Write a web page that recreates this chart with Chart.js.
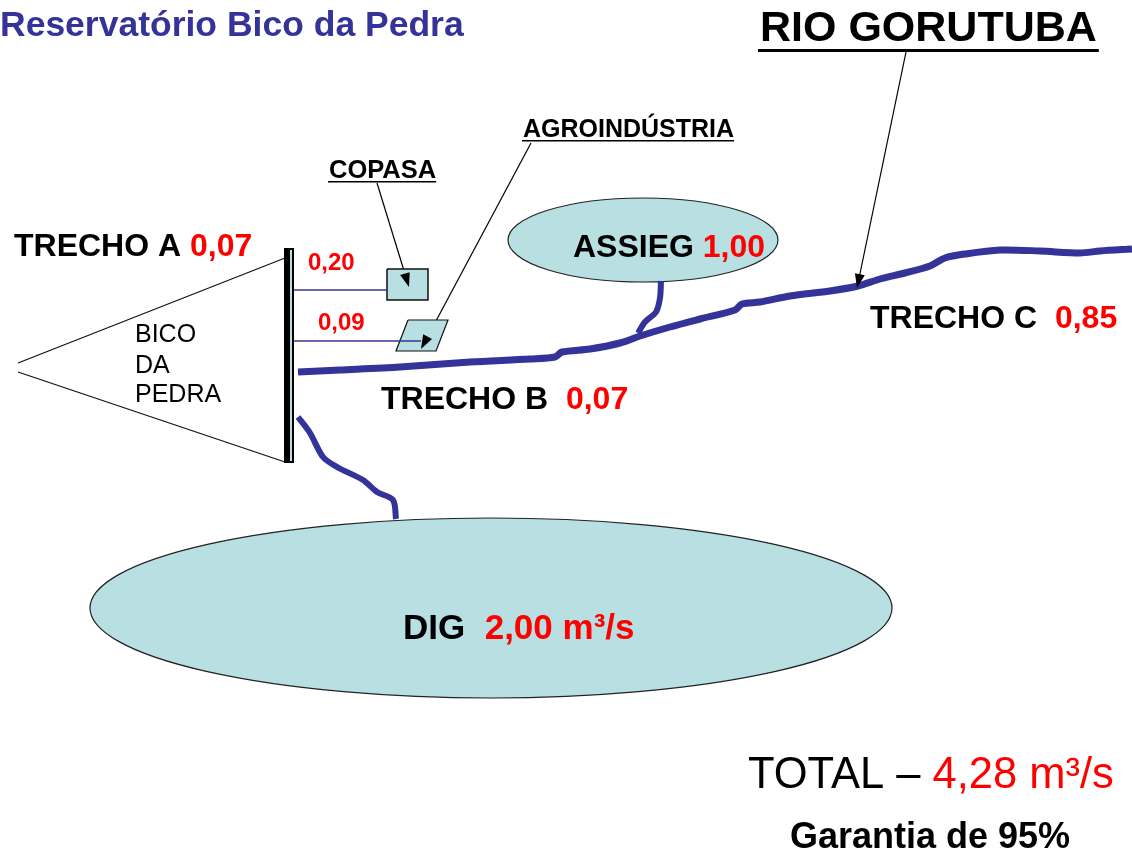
<!DOCTYPE html>
<html>
<head>
<meta charset="utf-8">
<script src="https://cdn.jsdelivr.net/npm/chart.js@4.4.1/dist/chart.umd.min.js"></script>
<style>
html, body { margin: 0; padding: 0; background: #fff; }
#wrap { width: 1132px; height: 852px; position: relative; }
</style>
</head>
<body>
<div id="wrap"><canvas id="diagram"></canvas></div>
<script>
// labels and flows (m³/s)
const title = 'Reservatório Bico da Pedra'
const riverName = 'RIO GORUTUBA'
const damName = ['BICO', 'DA', 'PEDRA']
const trechoNames = ['TRECHO A', 'TRECHO B', 'TRECHO C']
const trechoFlows = ['0,07', '0,07', '0,85']
const userNames = ['COPASA', 'AGROINDÚSTRIA']
const userFlows = ['0,20', '0,09']
const lakeNames = ['ASSIEG', 'DIG']
const lakeFlows = ['1,00', '2,00 m³/s']
const totalFlow = '4,28 m³/s'
const guarantee = 'Garantia de 95%'

// traced paths (picture units, y grows downward)
const riverMain = [
	{x: 298, y: 372}, {x: 340, y: 370}, {x: 400, y: 367}, {x: 470, y: 362}, {x: 530, y: 359},
	{x: 555, y: 357}, {x: 562, y: 352}, {x: 590, y: 349}, {x: 620, y: 343}, {x: 640, y: 336},
	{x: 670, y: 327}, {x: 700, y: 319}, {x: 735, y: 310}, {x: 742, y: 304}, {x: 760, y: 302},
	{x: 790, y: 296}, {x: 830, y: 291}, {x: 858, y: 286}, {x: 880, y: 279}, {x: 905, y: 273},
	{x: 930, y: 266}, {x: 945, y: 258}, {x: 965, y: 254}, {x: 1000, y: 250}, {x: 1040, y: 251},
	{x: 1080, y: 253}, {x: 1100, y: 251}, {x: 1132, y: 249}
]
const assiegBranch = [
	{x: 661, y: 281}, {x: 660, y: 298}, {x: 656, y: 312}, {x: 645, y: 322}, {x: 638, y: 333}
]
const digBranch = [
	{x: 298, y: 417}, {x: 310, y: 433}, {x: 323, y: 457}, {x: 337, y: 467}, {x: 363, y: 480},
	{x: 377, y: 492}, {x: 393, y: 500}, {x: 396, y: 519}
]
const copasaPipe = [{x: 293, y: 290}, {x: 387, y: 290}]
const agroPipe = [{x: 293, y: 341}, {x: 421, y: 341}]
const damTop = [{x: 18, y: 363}, {x: 285, y: 258}]
const damBottom = [{x: 18, y: 372}, {x: 285, y: 462}]
const copasaBox = [{x: 387, y: 269}, {x: 428, y: 269}, {x: 428, y: 300}, {x: 387, y: 300}, {x: 387, y: 269}]
const agroBox = [{x: 408, y: 320}, {x: 448, y: 320}, {x: 436, y: 351}, {x: 396, y: 351}, {x: 408, y: 320}]
const arrowRiver = [{x: 906, y: 52}, {x: 857, y: 288}]
const arrowCopasa = [{x: 377, y: 183}, {x: 409, y: 287}]
const arrowAgro = [{x: 531, y: 143}, {x: 421, y: 349}]
// lakes: centre and half axes
const lakeShapes = [
	{x: 643, y: 240, rx: 135, ry: 42},
	{x: 491, y: 608, rx: 401, ry: 90}
]
const dam = {x0: 285, x1: 293, y0: 248, y1: 463}

const BLUE = '#333399'
const RED = '#ff0000'
const LAKE = '#b8dfe2'
const FONT = '"Liberation Sans", Arial, sans-serif'

function line(data, color, width, extra) {
	return Object.assign({
		data: data,
		showLine: true,
		borderColor: color,
		borderWidth: width,
		pointRadius: 0,
		fill: false,
		tension: 0,
	}, extra || {})
}

// pixel helpers
function px(chart, p) {
	return {x: chart.scales.x.getPixelForValue(p.x), y: chart.scales.y.getPixelForValue(p.y)}
}

function textRun(ctx, x, y, parts) {
	let cx = x
	parts.forEach(part => {
		ctx.font = part.font
		ctx.fillStyle = part.color
		ctx.fillText(part.text, cx, y)
		cx += ctx.measureText(part.text).width
	})
	return cx
}

function underline(ctx, x0, x1, y, w) {
	ctx.fillStyle = '#000'
	ctx.fillRect(x0, y, x1 - x0, w)
}

const lakesPlugin = {
	id: 'lakes',
	beforeDatasetsDraw(chart) {
		const ctx = chart.ctx
		const sx = chart.scales.x, sy = chart.scales.y
		lakeShapes.forEach(l => {
			const c = px(chart, l)
			const rx = Math.abs(sx.getPixelForValue(l.x + l.rx) - c.x)
			const ry = Math.abs(sy.getPixelForValue(l.y + l.ry) - c.y)
			ctx.save()
			ctx.beginPath()
			ctx.ellipse(c.x, c.y, rx, ry, 0, 0, Math.PI * 2)
			ctx.fillStyle = LAKE
			ctx.fill()
			ctx.lineWidth = 1.2
			ctx.strokeStyle = '#222'
			ctx.stroke()
			ctx.restore()
		})
	},
	afterDatasetsDraw(chart) {
		const ctx = chart.ctx
		ctx.save()
		// arrow heads
		chart.data.datasets.forEach(ds => {
			if (!ds.arrow) return
			const a = px(chart, ds.data[ds.data.length - 2])
			const b = px(chart, ds.data[ds.data.length - 1])
			const ang = Math.atan2(b.y - a.y, b.x - a.x)
			ctx.save()
			ctx.translate(b.x, b.y)
			ctx.rotate(ang)
			ctx.beginPath()
			ctx.moveTo(0, 0)
			ctx.lineTo(-14, -5)
			ctx.lineTo(-14, 5)
			ctx.closePath()
			ctx.fillStyle = '#000'
			ctx.fill()
			ctx.restore()
		})
		// dam wall
		const d0 = px(chart, {x: dam.x0, y: dam.y0})
		const d1 = px(chart, {x: dam.x1, y: dam.y1})
		ctx.fillStyle = '#000'
		ctx.fillRect(d0.x - 1, d0.y, d1.x - d0.x + 2, d1.y - d0.y)
		ctx.fillStyle = LAKE
		ctx.fillRect(d1.x - 3, d0.y + 2, 2, d1.y - d0.y - 4)

		// texts
		ctx.textBaseline = 'alphabetic'
		textRun(ctx, 0, 36, [{text: title, color: BLUE, font: 'bold 35.5px ' + FONT}])

		let end = textRun(ctx, 760, 41, [{text: riverName, color: '#000', font: 'bold 43px ' + FONT}])
		underline(ctx, 758, end + 2, 49, 3)

		end = textRun(ctx, 523, 137, [{text: userNames[1], color: '#000', font: 'bold 25px ' + FONT}])
		underline(ctx, 522, end, 140, 1.5)
		end = textRun(ctx, 329, 178, [{text: userNames[0], color: '#000', font: 'bold 25.5px ' + FONT}])
		underline(ctx, 328, end, 181, 1.5)

		textRun(ctx, 308, 270, [{text: userFlows[0], color: RED, font: 'bold 24px ' + FONT}])
		textRun(ctx, 318, 330, [{text: userFlows[1], color: RED, font: 'bold 24px ' + FONT}])

		const tb = 'bold 32px ' + FONT
		textRun(ctx, 14, 256, [{text: trechoNames[0] + ' ', color: '#000', font: tb}, {text: trechoFlows[0], color: RED, font: tb}])
		textRun(ctx, 381, 409, [{text: trechoNames[1] + '  ', color: '#000', font: tb}, {text: trechoFlows[1], color: RED, font: tb}])
		textRun(ctx, 870, 328, [{text: trechoNames[2] + '  ', color: '#000', font: tb}, {text: trechoFlows[2], color: RED, font: tb}])

		damName.forEach((t, i) => {
			textRun(ctx, 135, [342, 373, 402][i], [{text: t, color: '#000', font: '25px ' + FONT}])
		})

		const ta = 'bold 32px ' + FONT
		textRun(ctx, 573, 257, [{text: lakeNames[0] + ' ', color: '#000', font: ta}, {text: lakeFlows[0], color: RED, font: ta}])
		const td = 'bold 35px ' + FONT
		textRun(ctx, 403, 639, [{text: lakeNames[1] + '  ', color: '#000', font: td}, {text: lakeFlows[1], color: RED, font: td}])

		const tt = '43.5px ' + FONT
		textRun(ctx, 748, 788, [{text: 'TOTAL – ', color: '#000', font: tt}, {text: totalFlow, color: RED, font: tt}])
		textRun(ctx, 790, 848, [{text: guarantee, color: '#000', font: 'bold 36px ' + FONT}])
		ctx.restore()
	}
}

new Chart(document.getElementById('diagram'), {
	type: 'scatter',
	data: {
		datasets: [
			line(riverMain, BLUE, 7, {tension: 0.3}),
			line(assiegBranch, BLUE, 6, {tension: 0.3}),
			line(digBranch, BLUE, 6, {tension: 0.3}),
			line(copasaPipe, BLUE, 1.5),
			line(agroPipe, BLUE, 1.5),
			line(damTop, '#111', 1.2),
			line(damBottom, '#111', 1.2),
			line(copasaBox, '#111', 1.5, {fill: 'shape', backgroundColor: LAKE}),
			line(agroBox, '#111', 1.2, {fill: 'shape', backgroundColor: LAKE}),
			line(arrowRiver, '#000', 1.2, {arrow: true}),
			line(arrowCopasa, '#000', 1.2, {arrow: true}),
			line(arrowAgro, '#000', 1.2, {arrow: true}),
		],
	},
	options: {
		responsive: true,
		maintainAspectRatio: false,
		animation: false,
		layout: {padding: 0},
		plugins: {
			legend: {display: false},
			tooltip: {enabled: false},
		},
		scales: {
			x: {type: 'linear', min: 0, max: 1132, display: false},
			y: {type: 'linear', min: 0, max: 852, reverse: true, display: false},
		},
	},
	plugins: [lakesPlugin],
})
</script>
</body>
</html>
